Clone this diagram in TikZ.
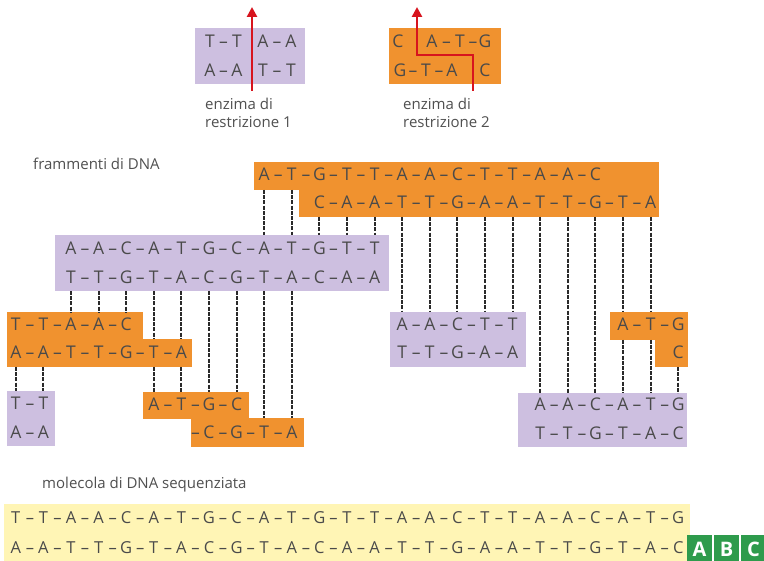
\documentclass[tikz,border=0pt]{standalone}
\usepackage{fontspec}
\setmainfont{Open Sans}
\usetikzlibrary{arrows.meta}
\definecolor{lila}{HTML}{CDBFE0}
\definecolor{arancio}{HTML}{F0922F}
\definecolor{giallo}{HTML}{FFF5B5}
\definecolor{verde}{HTML}{2E9B4C}
\definecolor{rosso}{HTML}{D7141E}
\definecolor{testo}{HTML}{4A4A4A}
\definecolor{etich}{HTML}{505050}
\definecolor{linea}{HTML}{2A2A2A}
\tikzset{
  blk/.style={draw=none, inner sep=0pt, outer sep=0pt, anchor=north west},
  obox/.style={blk, fill=arancio},
  pbox/.style={blk, fill=lila},
  ybox/.style={blk, fill=giallo},
  gbox/.style={blk, fill=verde},
  nt/.style={font=\fontsize{17.5}{17.5}\selectfont, text=testo, inner sep=0pt, anchor=base},
  ntsmall/.style={font=\fontsize{16.5}{16.5}\selectfont, text=testo, inner sep=0pt, anchor=base},
  lab/.style={font=\fontsize{15}{18}\selectfont, text=etich, inner sep=0pt, anchor=base west},
  logo/.style={font=\bfseries\fontsize{20}{20}\selectfont, text=white, inner sep=0pt, anchor=base},
  pair/.style={draw=linea, line width=2pt, dash pattern=on 4pt off 1.2pt},
  cut/.style={draw=rosso, line width=2.8pt, -{Triangle[width=10pt,length=10pt]}}
}
% box: style, name, x1, y1, x2, y2 (pixel coordinates, y downwards)
\newcommand{\blkbox}[6]{%
  \node[#1, minimum width={(#5-#3)*1pt}, minimum height={(#6-#4)*1pt}] (#2) at (#3,#4) {};}
% sequence row: style, name, first column, centre y, letters
\newcommand{\seqrow}[5]{%
  \foreach \L [count=\i from 0] in {#5}{%
    \pgfmathsetmacro{\xx}{71+27.6*(#3+\i)}%
    \node[#1] (#2-\i) at (\xx,#4+6) {\L};
    \ifnum\i>0 \node[#1] (#2-d\i) at (\xx-13.5,#4+6) {–};\fi
  }}
\begin{document}
\begin{tikzpicture}[x=1pt,y=-1pt]
\path[use as bounding box, fill=white] (0,0) rectangle (764,561);
\clip (0,0) rectangle (764,561);

% columns
\foreach \k in {-2,...,22} \coordinate (c\k) at ({71+27.6*\k},0);

% ---------- enzymes ----------
\blkbox{pbox}{E1}{195}{28}{305}{84}
\blkbox{obox}{E2}{389}{28}{501}{84}
\node[nt] (e1a) at (210,48) {T};
\node[nt] (e1b) at (223.5,48) {–};
\node[nt] (e1c) at (237,48) {T};
\node[nt] (e1d) at (263,48) {A};
\node[nt] (e1e) at (277,48) {–};
\node[nt] (e1f) at (291,48) {A};
\node[nt] (e1g) at (210,77) {A};
\node[nt] (e1h) at (223.5,77) {–};
\node[nt] (e1i) at (237,77) {A};
\node[nt] (e1j) at (263,77) {T};
\node[nt] (e1k) at (277,77) {–};
\node[nt] (e1l) at (291,77) {T};
\coordinate (r1s) at (252,91);
\coordinate (r1t) at (252,7);
\draw[cut] (r1s) -- (r1t);

\node[nt] (e2a) at (398,48) {C};
\node[nt] (e2b) at (432,48) {A};
\node[nt] (e2c) at (446.5,48) {–};
\node[nt] (e2d) at (460,48) {T};
\node[nt] (e2e) at (473,48) {–};
\node[nt] (e2f) at (485,48) {G};
\node[nt] (e2g) at (400,77) {G};
\node[nt] (e2h) at (413,77) {–};
\node[nt] (e2i) at (426,77) {T};
\node[nt] (e2j) at (439,77) {–};
\node[nt] (e2k) at (452,77) {A};
\node[nt] (e2l) at (485,77) {C};
\coordinate (r2s) at (473,91);
\coordinate (r2a) at (473,55);
\coordinate (r2b) at (417,55);
\coordinate (r2t) at (417,7);
\draw[cut] (r2s) -- (r2a) -- (r2b) -- (r2t);

\node[lab] (l1a) at (205,110) {enzima di};
\node[lab] (l1b) at (205,128) {restrizione 1};
\node[lab] (l2a) at (403,110) {enzima di};
\node[lab] (l2b) at (403,128) {restrizione 2};

% ---------- fragments ----------
\node[lab] (lfr) at (33,170) {frammenti di DNA};

\blkbox{obox}{F1a}{254}{162}{659}{190}
\blkbox{obox}{F1b}{299}{189}{659}{217}
\blkbox{pbox}{P1}{55}{235}{389}{291}
\blkbox{obox}{O2a}{7}{312}{143}{340}
\blkbox{obox}{O2b}{7}{339}{192}{367}
\blkbox{pbox}{P2}{390}{312}{526}{367}
\blkbox{obox}{O3a}{610}{312}{688}{340}
\blkbox{obox}{O3b}{655}{339}{688}{367}
\blkbox{pbox}{P3}{7}{391}{55}{446}
\blkbox{obox}{O4a}{143}{392}{249}{419}
\blkbox{obox}{O4b}{191}{418}{304}{447}
\blkbox{pbox}{P4}{518}{393}{687}{447}

\seqrow{nt}{fa}{7}{175}{A,T,G,T,T,A,A,C,T,T,A,A,C}
\seqrow{nt}{fb}{9}{203}{C,A,A,T,T,G,A,A,T,T,G,T,A}
\seqrow{nt}{pa}{0}{249}{A,A,C,A,T,G,C,A,T,G,T,T}
\seqrow{nt}{pb}{0}{278}{T,T,G,T,A,C,G,T,A,C,A,A}
\seqrow{nt}{oa}{-2}{325}{T,T,A,A,C}
\seqrow{nt}{ob}{-2}{353}{A,A,T,T,G,T,A}
\seqrow{nt}{ma}{12}{325}{A,A,C,T,T}
\seqrow{nt}{mb}{12}{353}{T,T,G,A,A}
\seqrow{nt}{ra}{20}{325}{A,T,G}
\seqrow{nt}{rb}{22}{353}{C}
\seqrow{nt}{ta}{-2}{404}{T,T}
\seqrow{nt}{tb}{-2}{433}{A,A}
\seqrow{nt}{ga}{3}{405}{A,T,G,C}
\seqrow{nt}{gb}{5}{433}{C,G,T,A}
\node[nt] (gb-lead) at ({71+27.6*5-13.5},439) {–};
\seqrow{nt}{qa}{17}{405}{A,A,C,A,T,G}
\seqrow{nt}{qb}{17}{434}{T,T,G,T,A,C}

% ---------- overlap connectors ----------
\foreach \k in {7,8} \draw[pair] (c\k |- F1a.south) -- (c\k |- P1.north);
\foreach \k in {9,10,11} \draw[pair] (c\k |- F1b.south) -- (c\k |- P1.north);
\foreach \k in {12,...,16} \draw[pair] (c\k |- F1b.south) -- (c\k |- P2.north);
\foreach \k in {17,18,19} \draw[pair] (c\k |- F1b.south) -- (c\k |- P4.north);
\foreach \k in {20,21} {
  \draw[pair] (c\k |- F1b.south) -- (c\k |- O3a.north);
  \draw[pair] (c\k |- O3a.south) -- (c\k |- P4.north);
}
\draw[pair] (c22 |- O3b.south) -- (c22 |- P4.north);
\foreach \k in {0,1,2} \draw[pair] (c\k |- P1.south) -- (c\k |- O2a.north);
\foreach \k in {3,4} {
  \draw[pair] (c\k |- P1.south) -- (c\k |- O2b.north);
  \draw[pair] (c\k |- O2b.south) -- (c\k |- O4a.north);
}
\foreach \k in {5,6} \draw[pair] (c\k |- P1.south) -- (c\k |- O4a.north);
\foreach \k in {7,8} \draw[pair] (c\k |- P1.south) -- (c\k |- O4b.north);
\foreach \k in {-2,-1} \draw[pair] (c\k |- O2b.south) -- (c\k |- P3.north);

% ---------- sequenced molecule ----------
\node[lab] (lmol) at (42,489) {molecola di DNA sequenziata};
\blkbox{ybox}{Y}{4}{504}{690}{563}
\seqrow{ntsmall}{ya}{-2}{518}{T,T,A,A,C,A,T,G,C,A,T,G,T,T,A,A,C,T,T,A,A,C,A,T,G}
\seqrow{ntsmall}{yb}{-2}{548}{A,A,T,T,G,T,A,C,G,T,A,C,A,A,T,T,G,A,A,T,T,G,T,A,C}

% ---------- logo ----------
\blkbox{gbox}{G1}{687}{535}{712}{563}
\blkbox{gbox}{G2}{714}{535}{739}{563}
\blkbox{gbox}{G3}{741}{535}{766}{563}
\node[logo] (la) at (699.5,557) {A};
\node[logo] (lb) at (726.5,557) {B};
\node[logo] (lc) at (753.5,557) {C};
\end{tikzpicture}
\end{document}
